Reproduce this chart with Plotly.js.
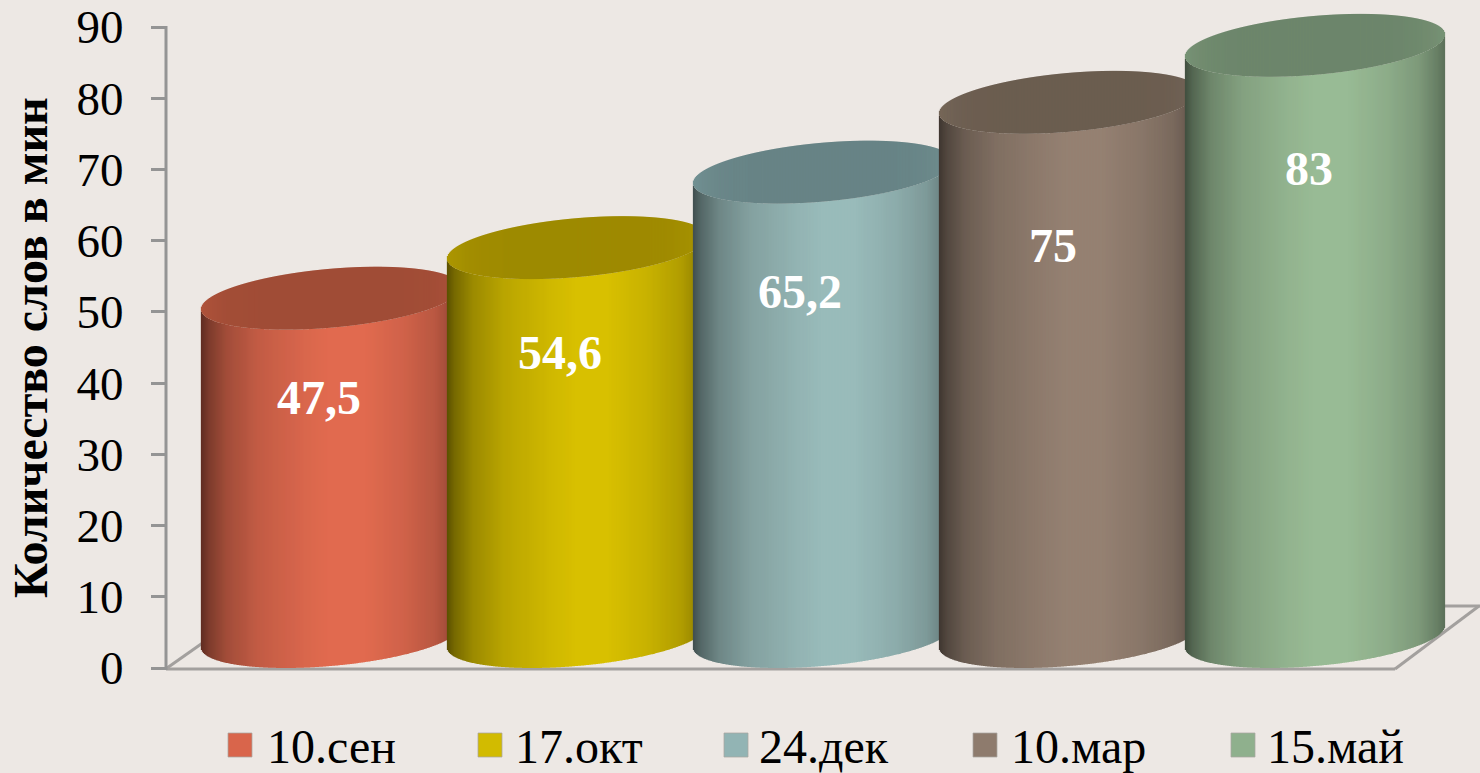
<!DOCTYPE html>
<html><head><meta charset="utf-8">
<script src="https://cdn.plot.ly/plotly-3.0.1.min.js"></script>
<style>html,body{margin:0;padding:0;background:#ede8e4;overflow:hidden}</style>
</head><body><div id="chart" style="width:1480px;height:773px"></div>
<script>
const categories = ["10.сен","17.окт","24.дек","10.мар","15.май"];
const values = [47.5,54.6,65.2,75,83];
const valueLabels = ["47,5","54,6","65,2","75","83"];
const yTitle = "Количество слов в мин";
const bodyColors = [[226,107,80],[216,192,0],[153,187,186],[149,129,114],[153,187,149]];
const capColors = [[160,76,54],[158,138,0],[104,132,134],[107,93,80],[109,134,107]];
const swatchColors = ["#d9654b","#d2bb00","#92b4b4","#8e7b6d","#8fb08d"];
const ticks = [0,10,20,30,40,50,60,70,80,90];
const shadeU = [0,0.03,0.1,0.22,0.4,0.5,0.62,0.78,0.9,0.97,1];
const shadeV = [0.42,0.55,0.72,0.86,0.96,1,1,0.92,0.82,0.68,0.6];

// pixel frame of the plot
const L=167,R=1480,T=27,B=668,TopRoom=8;
const spacing=246, firstCx=331;
const pxPerUnit=(B-T)/90;
const unitsPerPx=1/spacing;
const xMin=(L-firstCx)/spacing, xMax=(R-firstCx)/spacing;
const pxX=p=>(p-firstCx)/spacing;
const pxY=p=>(B-p)/pxPerUnit;
const paperX=p=>(p-L)/(R-L);
const paperY=p=>(B-p)/(B-TopRoom);
const halfW=130, tiltPx=11, archPx=29.5, halfH=31.5;

function shade(u){
  for(let i=1;i<shadeU.length;i++){ if(u<=shadeU[i]){
    const f=(u-shadeU[i-1])/(shadeU[i]-shadeU[i-1]);
    return shadeV[i-1]+f*(shadeV[i]-shadeV[i-1]); } }
  return shadeV[shadeV.length-1];
}
const rgb=(c,k)=>`rgb(${c.map(v=>Math.round(v*k)).join(",")})`;

const traces=[{type:"bar",x:categories.map((c,i)=>i),y:values,width:2*halfW*unitsPerPx,
  marker:{color:"rgba(0,0,0,0)"},hoverinfo:"skip",showlegend:false,name:"values"}];

values.forEach((v,i)=>{
  const bx=[],bb=[],bh=[],bc=[],cb=[],ch=[],cc=[];
  for(let dx=-halfW+0.5;dx<halfW;dx+=1){
    const n=dx/halfW, tilt=tiltPx*n, arch=archPx*Math.sqrt(1-n*n);
    const topC=v*pxPerUnit+halfH, botC=halfH;
    const upper=topC+tilt+arch, lower=topC+tilt-arch, bottom=botC+tilt-arch;
    bx.push(i+dx*unitsPerPx);
    bb.push(bottom/pxPerUnit); bh.push((lower-bottom)/pxPerUnit);
    bc.push(rgb(bodyColors[i],shade((n+1)/2)));
    cb.push(lower/pxPerUnit); ch.push((upper-lower)/pxPerUnit);
    cc.push(rgb(capColors[i],1+0.1*Math.pow(Math.abs(n),6)));
  }
  const common={type:"bar",x:bx,width:unitsPerPx*1.25,hoverinfo:"skip",showlegend:false,name:categories[i]};
  traces.push(Object.assign({},common,{base:bb,y:bh,marker:{color:bc,line:{width:0}}}));
  traces.push(Object.assign({},common,{base:cb,y:ch,marker:{color:cc,line:{width:0}}}));
});

const axisGrey="#949494";
const seg=(x0,y0,x1,y1,col,w)=>({type:"line",layer:"below",xref:"paper",yref:"paper",x0:paperX(x0),y0:paperY(y0),x1:paperX(x1),y1:paperY(y1),line:{color:col||"#a3a09e",width:w||3}});
const shapes=[seg(166,669,1395,669),seg(167,668,204,642),seg(1395,669,1479,606),seg(1440,606,1480,606),seg(166,26,166,670,axisGrey,3)];

const labelPxX=[319,560,800,1053,1309], labelPxY=[397,352,291,245,168];
const annotations=valueLabels.map((t,i)=>({text:t,xref:"x",yref:"y",x:pxX(labelPxX[i]),y:pxY(labelPxY[i]),showarrow:false,
  font:{family:"Liberation Serif",size:48,color:"#ffffff",weight:700}}));

annotations.push({text:yTitle,xref:"paper",yref:"paper",x:paperX(30),y:paperY(348),xanchor:"center",yanchor:"middle",textangle:-90,showarrow:false,
  font:{family:"Liberation Serif",size:48,color:"#000000",weight:700}});

const swatchPx=[228,478,724,973,1231], legendTextPx=[265,513,757,1009,1265];
categories.forEach((c,i)=>{
  shapes.push({type:"rect",xref:"paper",yref:"paper",x0:paperX(swatchPx[i]),x1:paperX(swatchPx[i]+24),y0:paperY(733),y1:paperY(757),
    fillcolor:swatchColors[i],line:{color:"#a9a5a2",width:0.75},layer:"above"});
  annotations.push({text:c,xref:"paper",yref:"paper",x:paperX(legendTextPx[i]),y:paperY(746),xanchor:"left",yanchor:"middle",showarrow:false,
    font:{family:"Liberation Serif",size:48,color:"#000000"}});
});

const layout={width:1480,height:773,margin:{l:L,r:0,t:TopRoom,b:773-B,pad:0},
  paper_bgcolor:"#ede8e4",plot_bgcolor:"rgba(0,0,0,0)",barmode:"overlay",showlegend:false,
  font:{family:"Liberation Serif",color:"#000"},
  xaxis:{range:[xMin,xMax],showgrid:false,zeroline:false,showticklabels:false,ticks:"",showline:false,fixedrange:true},
  yaxis:{range:[0,pxY(TopRoom)],tickvals:ticks,ticktext:ticks.map(String),showgrid:false,zeroline:false,showline:false,
    ticks:"outside",ticklen:15,tickwidth:3,tickcolor:axisGrey,ticklabelstandoff:18,tickfont:{family:"Liberation Serif",size:47,color:"#000"},
    fixedrange:true},
  shapes,annotations};
Plotly.newPlot("chart",traces,layout,{displayModeBar:false,staticPlot:true});
</script></body></html>
